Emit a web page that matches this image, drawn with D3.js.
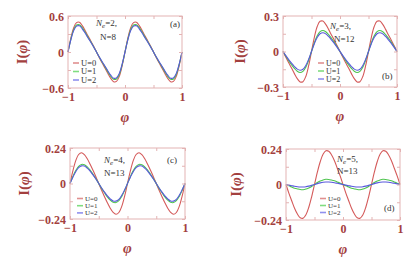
<!DOCTYPE html>
<html><head><meta charset="utf-8">
<script src="https://cdn.jsdelivr.net/npm/d3@7"></script>
<style>
html,body{margin:0;padding:0;background:#fff;}
svg{display:block;}
</style></head>
<body>
<svg id="c" width="417" height="259"></svg>
<script>
const phi = [-1,-0.95,-0.9,-0.85,-0.8,-0.75,-0.7,-0.65,-0.6,-0.55,-0.5,-0.45,-0.4,-0.35,-0.3,-0.25,-0.2,-0.15,-0.1,-0.05,0,
0.05,0.1,0.15,0.2,0.25,0.3,0.35,0.4,0.45,0.5,0.55,0.6,0.65,0.7,0.75,0.8,0.85,0.9,0.95,1];
const seriesNames = ["U=0","U=1","U=2"];

// Panel (a) Ne=2, N=8
const aU0 = [0,0.23,0.405,0.49,0.495,0.44,0.36,0.27,0.185,0.095,0,
-0.095,-0.185,-0.27,-0.36,-0.44,-0.495,-0.49,-0.405,-0.23,0,
0.23,0.405,0.49,0.495,0.44,0.36,0.27,0.185,0.095,0,
-0.095,-0.185,-0.27,-0.36,-0.44,-0.495,-0.49,-0.405,-0.23,0];
const aU1 = [0,0.212,0.373,0.451,0.455,0.405,0.331,0.248,0.170,0.087,0,
-0.087,-0.170,-0.248,-0.331,-0.405,-0.455,-0.451,-0.373,-0.212,0,
0.212,0.373,0.451,0.455,0.405,0.331,0.248,0.170,0.087,0,
-0.087,-0.170,-0.248,-0.331,-0.405,-0.455,-0.451,-0.373,-0.212,0];
const aU2 = [0,0.202,0.356,0.431,0.436,0.387,0.317,0.238,0.163,0.084,0,
-0.084,-0.163,-0.238,-0.317,-0.387,-0.436,-0.431,-0.356,-0.202,0,
0.202,0.356,0.431,0.436,0.387,0.317,0.238,0.163,0.084,0,
-0.084,-0.163,-0.238,-0.317,-0.387,-0.436,-0.431,-0.356,-0.202,0];

// Panel (b) Ne=3, N=12
const bU0 = [0,-0.049,-0.096,-0.140,-0.187,-0.229,-0.257,-0.255,-0.211,-0.120,0,
0.120,0.211,0.255,0.257,0.229,0.187,0.140,0.096,0.049,0,
-0.049,-0.096,-0.140,-0.187,-0.229,-0.257,-0.255,-0.211,-0.120,0,
0.120,0.211,0.255,0.257,0.229,0.187,0.140,0.096,0.049,0];
const bU1 = [0,-0.040,-0.077,-0.112,-0.143,-0.167,-0.178,-0.168,-0.133,-0.074,0,
0.074,0.133,0.168,0.178,0.167,0.143,0.112,0.077,0.040,0,
-0.040,-0.077,-0.112,-0.143,-0.167,-0.178,-0.168,-0.133,-0.074,0,
0.074,0.133,0.168,0.178,0.167,0.143,0.112,0.077,0.040,0];
const bU2 = [0,-0.035,-0.068,-0.099,-0.127,-0.149,-0.158,-0.150,-0.118,-0.066,0,
0.066,0.118,0.150,0.158,0.149,0.127,0.099,0.068,0.035,0,
-0.035,-0.068,-0.099,-0.127,-0.149,-0.158,-0.150,-0.118,-0.066,0,
0.066,0.118,0.150,0.158,0.149,0.127,0.099,0.068,0.035,0];

// Panel (c) Ne=4, N=13
const cU0 = [0,0.086,0.155,0.196,0.208,0.195,0.167,0.130,0.089,0.046,0,
-0.046,-0.089,-0.130,-0.167,-0.195,-0.208,-0.196,-0.155,-0.086,0,
0.086,0.155,0.196,0.208,0.195,0.167,0.130,0.089,0.046,0,
-0.046,-0.089,-0.130,-0.167,-0.195,-0.208,-0.196,-0.155,-0.086,0];
const cU1 = [0,0.047,0.087,0.116,0.129,0.127,0.113,0.091,0.062,0.033,0,
-0.033,-0.062,-0.091,-0.113,-0.127,-0.129,-0.116,-0.087,-0.047,0,
0.047,0.087,0.116,0.129,0.127,0.113,0.091,0.062,0.033,0,
-0.033,-0.062,-0.091,-0.113,-0.127,-0.129,-0.116,-0.087,-0.047,0];
const cU2 = [0,0.043,0.080,0.107,0.119,0.118,0.104,0.084,0.058,0.030,0,
-0.030,-0.058,-0.084,-0.104,-0.118,-0.119,-0.107,-0.080,-0.043,0,
0.043,0.080,0.107,0.119,0.118,0.104,0.084,0.058,0.030,0,
-0.030,-0.058,-0.084,-0.104,-0.118,-0.119,-0.107,-0.080,-0.043,0];

// Panel (d) Ne=5, N=13
const dU0 = [0,-0.058,-0.110,-0.161,-0.200,-0.225,-0.228,-0.205,-0.154,-0.083,0,
0.083,0.154,0.205,0.228,0.225,0.200,0.161,0.110,0.058,0,
-0.058,-0.110,-0.161,-0.200,-0.225,-0.228,-0.205,-0.154,-0.083,0,
0.083,0.154,0.205,0.228,0.225,0.200,0.161,0.110,0.058,0];
const dU1 = [0,-0.009,-0.017,-0.025,-0.030,-0.034,-0.035,-0.031,-0.023,-0.013,0,
0.013,0.023,0.031,0.035,0.034,0.030,0.025,0.017,0.009,0,
-0.009,-0.017,-0.025,-0.030,-0.034,-0.035,-0.031,-0.023,-0.013,0,
0.013,0.023,0.031,0.035,0.034,0.030,0.025,0.017,0.009,0];
const dU2 = [0,-0.004,-0.008,-0.012,-0.015,-0.017,-0.017,-0.015,-0.011,-0.006,0,
0.006,0.011,0.015,0.017,0.017,0.015,0.012,0.008,0.004,0,
-0.004,-0.008,-0.012,-0.015,-0.017,-0.017,-0.015,-0.011,-0.006,0,
0.006,0.011,0.015,0.017,0.017,0.015,0.012,0.008,0.004,0];

const xTicks = [-1,-0.5,0,0.5,1];
const xTickLabels = ["\u22121","","0","","1"];
const aYTicks = [-0.6,-0.3,0,0.3,0.6], aYLabels = ["\u22120.6","","0","","0.6"];
const bYTicks = [-0.3,-0.15,0,0.15,0.3], bYLabels = ["\u22120.3","","0","","0.3"];
const cYTicks = [-0.24,-0.12,0,0.12,0.24], cYLabels = ["\u22120.24","","0","","0.24"];
const dYTicks = [-0.24,-0.12,0,0.12,0.24], dYLabels = ["\u22120.24","","0","","0.24"];
const panelTags = ["(a)","(b)","(c)","(d)"];
const neVals = ["2","3","4","5"];
const nVals = ["8","12","13","13"];

const colors = ["#d45a5a","#4ec44e","#5858dc"];
const legendColors = ["#e09090","#80dd80","#9090ee"];
const textCol = "#a3403e";
const frameCol = "#e3b3b3";

const panels = [
 {x0:68,x1:182,y0:16,y1:88, dom:0.6, yt:aYTicks, yl:aYLabels, s:[aU0,aU1,aU2],
  tagPos:[170,27], nePos:[96,26], nPos:[100,40], legPos:[73,63], legDy:8.5, legFs:8.5, ytx:22},
 {x0:283,x1:397,y0:16,y1:87, dom:0.3, yt:bYTicks, yl:bYLabels, s:[bU0,bU1,bU2],
  tagPos:[382,79], nePos:[330,29], nPos:[334,42], legPos:[318,63], legDy:8, legFs:8, ytx:240},
 {x0:70,x1:185,y0:148,y1:219, dom:0.24, yt:cYTicks, yl:cYLabels, s:[cU0,cU1,cU2],
  tagPos:[167,163], nePos:[104,163], nPos:[104,176], legPos:[77,198.5], legDy:7.2, legFs:7.0, ytx:24},
 {x0:286,x1:400,y0:149,y1:220, dom:0.24, yt:dYTicks, yl:dYLabels, s:[dU0,dU1,dU2],
  tagPos:[384,211], nePos:[337,162], nPos:[337,174], legPos:[320,198.5], legDy:7, legFs:7.0, ytx:236}
];

const svg = d3.select("#c");
const serif = "'Liberation Serif','DejaVu Serif',serif";

panels.forEach((p,i)=>{
  const x = d3.scaleLinear().domain([-1,1]).range([p.x0,p.x1]);
  const y = d3.scaleLinear().domain([-p.dom,p.dom]).range([p.y1,p.y0]);
  const g = svg.append("g");
  const line = d3.line().x((d,k)=>x(phi[k])).y(d=>y(d)).curve(d3.curveCatmullRom.alpha(0.5));
  p.s.forEach((ser,j)=>{
    g.append("path").attr("d",line(ser)).attr("fill","none")
      .attr("stroke",colors[j]).attr("stroke-width",1.1);
  });
  g.append("rect").attr("x",p.x0).attr("y",p.y0).attr("width",p.x1-p.x0).attr("height",p.y1-p.y0)
    .attr("fill","none").attr("stroke",frameCol).attr("stroke-width",1);
  const tl = 3;
  g.append("g").attr("transform",`translate(0,${p.y1})`)
    .call(d3.axisBottom(x).tickValues(xTicks).tickSizeInner(-tl).tickSizeOuter(0).tickFormat((d,k)=>xTickLabels[k]))
    .call(a=>{a.select(".domain").remove(); a.selectAll("line").attr("stroke",frameCol);
      a.selectAll("text").attr("fill",textCol).attr("font-family",serif).attr("font-weight","bold")
       .attr("font-size",12).attr("dy",null).attr("y",13);});
  g.append("g").attr("transform",`translate(0,${p.y0})`)
    .call(d3.axisTop(x).tickValues(xTicks).tickSizeInner(-tl).tickSizeOuter(0).tickFormat(""))
    .call(a=>{a.select(".domain").remove(); a.selectAll("line").attr("stroke",frameCol);});
  g.append("g").attr("transform",`translate(${p.x0},0)`)
    .call(d3.axisLeft(y).tickValues(p.yt).tickSizeInner(-tl).tickSizeOuter(0).tickFormat((d,k)=>p.yl[k]))
    .call(a=>{a.select(".domain").remove(); a.selectAll("line").attr("stroke",frameCol);
      a.selectAll("text").attr("fill",textCol).attr("font-family",serif).attr("font-weight","bold")
       .attr("font-size",12).attr("x",-4).attr("dy","0.35em");});
  g.append("g").attr("transform",`translate(${p.x1},0)`)
    .call(d3.axisRight(y).tickValues(p.yt).tickSizeInner(-tl).tickSizeOuter(0).tickFormat(""))
    .call(a=>{a.select(".domain").remove(); a.selectAll("line").attr("stroke",frameCol);});
  g.selectAll(".tick text").style("font-family",serif);
  const ymid = (p.y0+p.y1)/2;
  const yt = g.append("text").attr("transform",`translate(${p.ytx},${ymid}) rotate(-90)`)
    .attr("text-anchor","middle").attr("dy","0.35em").attr("fill",textCol)
    .attr("font-family",serif).attr("font-weight","bold").attr("font-size",15);
  yt.append("tspan").text("I(");
  yt.append("tspan").attr("font-style","italic").text("\u03c6");
  yt.append("tspan").text(")");
  g.append("text").attr("x",(p.x0+p.x1)/2).attr("y",p.y1+34).attr("text-anchor","middle")
    .attr("fill",textCol).attr("font-family",serif).attr("font-weight","bold").attr("font-style","italic")
    .attr("font-size",15).text("\u03c6");
  g.append("text").attr("x",p.tagPos[0]).attr("y",p.tagPos[1]).attr("font-family",serif)
    .attr("font-size",9).attr("fill","#333").text(panelTags[i]);
  const ne = g.append("text").attr("x",p.nePos[0]).attr("y",p.nePos[1]).attr("font-family",serif)
    .attr("font-size",9).attr("fill","#333");
  ne.append("tspan").attr("font-style","italic").text("N");
  ne.append("tspan").attr("font-style","italic").attr("font-size",7).attr("dy",2).text("e");
  ne.append("tspan").attr("dy",-2).text("="+neVals[i]+",");
  g.append("text").attr("x",p.nPos[0]).attr("y",p.nPos[1]).attr("font-family",serif)
    .attr("font-size",9).attr("fill","#333").text("N="+nVals[i]);
  seriesNames.forEach((nm,j)=>{
    const ly = p.legPos[1] + j*p.legDy;
    g.append("line").attr("x1",p.legPos[0]).attr("x2",p.legPos[0]+6).attr("y1",ly).attr("y2",ly)
      .attr("stroke",legendColors[j]).attr("stroke-width",1.6);
    g.append("text").attr("x",p.legPos[0]+8).attr("y",ly).attr("dy","0.35em")
      .attr("font-family",serif).attr("font-size",p.legFs).attr("fill","#333").text(nm);
  });
});
</script>
</body></html>
